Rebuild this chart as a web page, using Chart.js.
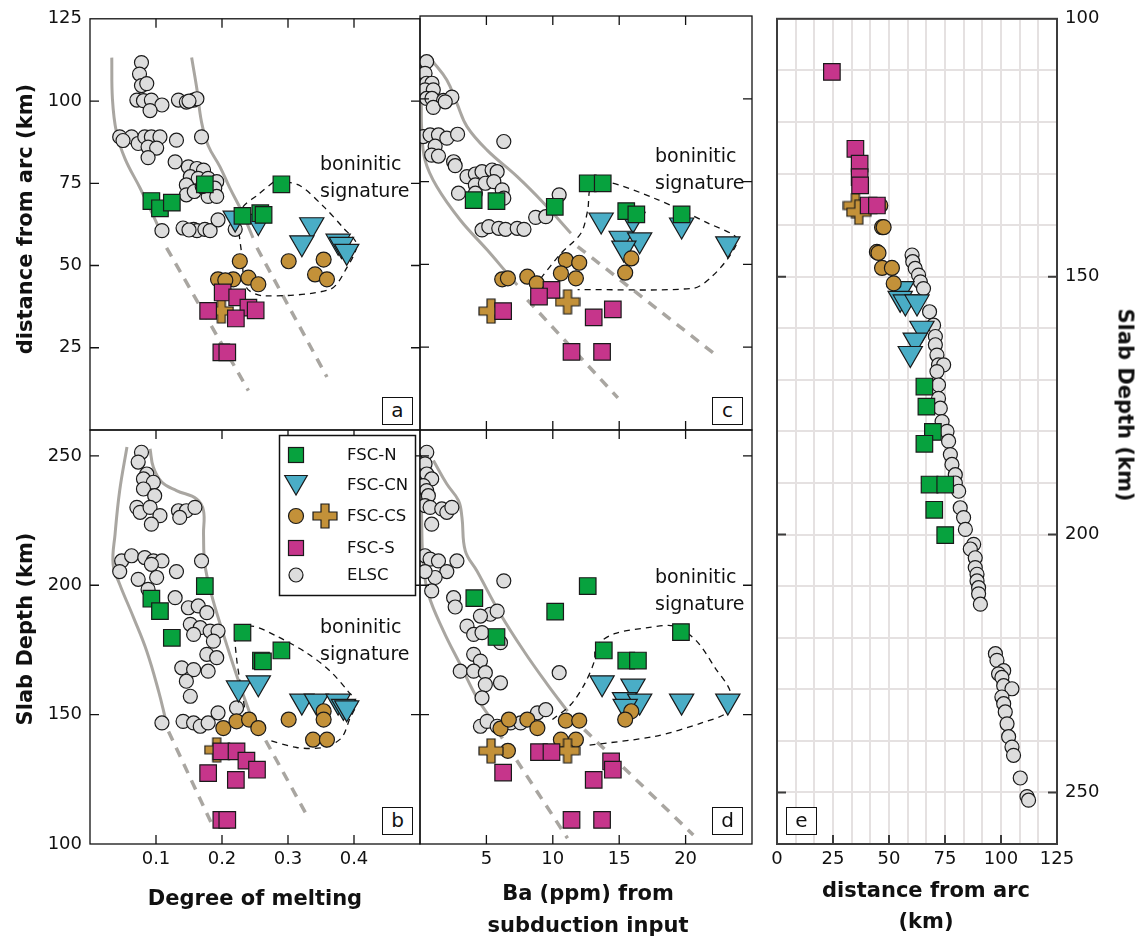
<!DOCTYPE html>
<html lang="en">
<head>
<meta charset="UTF-8">
<title>Slab depth, melting and Ba input</title>
<style>
  * { margin: 0; padding: 0; box-sizing: border-box; }
  body { background: #fff; width: 1139px; height: 939px; overflow: hidden;
         font-family: 'DejaVu Sans', sans-serif; color: #111; }
  #fig { position: relative; width: 1139px; height: 939px; }
  #fig canvas { position: absolute; left: 0; top: 0; }
  .t { position: absolute; white-space: nowrap; z-index: 5; line-height: 1; }
  .ttl { font-weight: bold; font-size: 21px; transform: translate(-50%, -50%); }
  .vl { transform: translate(-50%, -50%) rotate(-90deg); }
  .vr { transform: translate(-50%, -50%) rotate(90deg); }
  .note { font-size: 19px; line-height: 27px; }
  .tag { position: absolute; z-index: 5; border: 1.5px solid #111; background: #fff;
         font-size: 20px; display: flex; align-items: center; justify-content: center;
         width: 31px; height: 28px; padding-bottom: 3px; }
  .leg { font-size: 16.5px; transform: translateY(-50%); left: 347px; }
</style>
</head>
<body>
<div id="fig">
  <div class="t ttl vl" style="left:25px;top:219px">distance from arc (km)</div>
  <div class="t ttl vl" style="left:25px;top:629px">Slab Depth (km)</div>
  <div class="t ttl" style="left:255px;top:898px">Degree of melting</div>
  <div class="t ttl" style="left:588px;top:893px">Ba (ppm) from</div>
  <div class="t ttl" style="left:588px;top:925px">subduction input</div>
  <div class="t ttl" style="left:926px;top:890px">distance from arc</div>
  <div class="t ttl" style="left:926px;top:921px">(km)</div>
  <div class="t ttl vr" style="left:1125px;top:405px">Slab Depth (km)</div>

  <div class="t note" style="left:320px;top:150px">boninitic<br>signature</div>
  <div class="t note" style="left:655px;top:142px">boninitic<br>signature</div>
  <div class="t note" style="left:320px;top:613px">boninitic<br>signature</div>
  <div class="t note" style="left:655px;top:563px">boninitic<br>signature</div>

  <div class="tag" style="left:382px;top:397px">a</div>
  <div class="tag" style="left:712px;top:397px">c</div>
  <div class="tag" style="left:382px;top:807px">b</div>
  <div class="tag" style="left:712px;top:807px">d</div>
  <div class="tag" style="left:786px;top:807px">e</div>

  <div class="t leg" style="top:455px">FSC-N</div>
  <div class="t leg" style="top:485px">FSC-CN</div>
  <div class="t leg" style="top:516px">FSC-CS</div>
  <div class="t leg" style="top:548px">FSC-S</div>
  <div class="t leg" style="top:575px">ELSC</div>
</div>

<script src="https://cdn.jsdelivr.net/npm/chart.js"></script>
<script>
// ---- panel a : degree of melting vs distance from arc ----
const elscA = [[0.078,111.7],[0.075,108.2],[0.078,104.7],[0.086,105.3],
  [0.071,100.3],[0.081,100.1],[0.093,100.3],[0.109,98.8],[0.091,97.1],
  [0.134,100.3],[0.146,99.7],[0.157,100.3],[0.162,100.7],[0.150,100.0],
  [0.045,89.1],[0.063,89.1],[0.073,87.1],[0.083,89.1],[0.093,89.1],[0.106,89.1],[0.088,86.0],
  [0.101,85.7],[0.088,82.8],[0.131,88.1],[0.169,89.1],[0.050,88.0],
  [0.129,81.5],[0.149,80.0],[0.162,79.5],[0.172,79.0],[0.152,77.0],[0.164,76.5],[0.179,76.5],
  [0.192,75.5],[0.146,74.5],[0.189,73.5],[0.146,71.5],[0.179,71.0],[0.192,71.0],[0.158,72.5],[0.170,74.0],
  [0.109,60.6],[0.141,61.4],[0.157,61.0],[0.162,60.6],[0.174,61.0],[0.182,60.6],[0.194,63.9],[0.220,61.0],[0.150,60.8]];
const fscNA = [[0.174,74.7],[0.093,69.6],[0.106,67.4],[0.124,69.1],[0.290,74.7],[0.231,65.1],[0.258,65.9],[0.263,65.4]];
const fscCNA = [[0.220,64.4],[0.255,63.4],[0.336,62.4],[0.321,56.9],[0.376,57.4],[0.381,56.4],[0.389,54.3]];
const fscCSA = [[0.227,51.3],[0.194,45.8],[0.217,45.8],[0.240,46.3],[0.255,44.3],[0.301,51.3],[0.354,51.8],
  [0.341,47.3],[0.359,45.8],[0.205,45.5]];
const fscCSPlusA = [[0.199,36.2]];
const fscSA = [[0.201,41.8],[0.223,40.3],[0.179,36.2],[0.240,37.2],[0.251,36.4],[0.221,33.9],[0.199,23.6],[0.208,23.6]];
const leftA = [[0.033,113.2],[0.034,100.6],[0.040,90.6],[0.053,82.5],[0.076,73.5],[0.093,66.4],[0.109,59.4]];
const leftDashA = [[0.116,55.4],[0.240,12.0]];
const rightA = [[0.154,113.2],[0.162,103.6],[0.169,93.6],[0.179,86.5],[0.197,80.0],[0.212,73.5],[0.230,66.4],[0.247,58.4]];
const rightDashA = [[0.253,55.4],[0.359,16.1]];
const boninA = [[0.280,75.7],[0.316,74.5],[0.354,67.9],[0.384,61.4],[0.404,56.4],[0.389,49.3],[0.364,42.8],
  [0.263,40.8],[0.237,43.3],[0.230,53.3],[0.225,63.4],[0.232,67.9],[0.253,71.3],[0.280,75.7]];

// ---- panel b : degree of melting vs slab depth ----
const elscB = [[0.078,251.4],[0.073,247.6],[0.086,243.0],[0.081,241.1],[0.096,239.8],[0.081,237.2],[0.098,234.6],
  [0.071,230.1],[0.076,228.2],[0.091,230.1],[0.106,226.9],[0.093,223.6],[0.134,228.8],[0.146,228.8],[0.159,230.1],[0.136,226.2],
  [0.048,209.4],[0.063,211.4],[0.083,210.7],[0.096,209.4],[0.109,209.4],[0.045,205.3],[0.093,208.1],[0.131,205.3],
  [0.169,209.4],[0.073,202.3],[0.101,203.0],[0.088,198.4],
  [0.129,195.2],[0.149,191.3],[0.164,192.0],[0.177,189.4],[0.152,184.9],[0.167,183.6],[0.182,182.3],[0.194,182.3],
  [0.157,181.0],[0.187,178.4],[0.177,173.3],[0.192,172.0],[0.139,168.1],[0.157,167.4],[0.179,166.8],[0.146,162.9],[0.152,157.1],
  [0.109,146.8],[0.141,147.4],[0.157,146.8],[0.167,145.5],[0.179,146.8],[0.194,150.7],[0.222,152.6]];
const fscNB = [[0.174,199.7],[0.093,194.8],[0.106,190.0],[0.124,179.7],[0.231,181.7],[0.290,174.8],[0.259,170.9],[0.262,170.6]];
const fscCNB = [[0.225,160.3],[0.255,162.3],[0.321,155.2],[0.343,155.2],[0.376,155.2],[0.384,153.2],[0.389,152.6]];
const fscCSB = [[0.202,144.8],[0.222,147.4],[0.241,148.1],[0.255,144.8],[0.301,148.1],[0.354,151.3],[0.354,148.1],
  [0.338,140.3],[0.359,140.3]];
const fscCSPlusB = [[0.192,136.4]];
const fscSB = [[0.199,135.8],[0.222,135.8],[0.237,132.2],[0.253,128.7],[0.179,127.4],[0.221,124.8],[0.199,109.3],[0.208,109.3]];
const leftB = [[0.056,253.4],[0.045,236.6],[0.038,219.8],[0.035,208.1],[0.045,200.4],[0.066,187.5],[0.086,174.5],
  [0.104,159.0],[0.114,148.7]];
const leftDashB = [[0.119,143.5],[0.184,108.0]];
const rightB = [[0.091,252.7],[0.096,245.6],[0.109,239.8],[0.131,236.6],[0.162,233.3],[0.172,228.8],[0.172,219.8],
  [0.174,208.1],[0.184,196.5],[0.199,183.6],[0.215,170.7],[0.232,157.8],[0.242,150.7]];
const rightDashB = [[0.253,146.1],[0.331,110.0]];
const boninB = [[0.237,148.7],[0.230,159.0],[0.222,172.0],[0.222,181.0],[0.245,184.2],[0.283,180.3],[0.328,173.9],
  [0.364,166.8],[0.391,159.0],[0.404,154.5],[0.394,148.7],[0.381,141.0],[0.354,137.3],[0.313,137.3],[0.268,140.3]];

// ---- panel c : Ba from subduction vs distance from arc ----
const elscC = [[0.5,111.2],[0.38,107.7],[0.5,104.7],[0.9,104.7],[0.38,102.7],[1.0,102.7],
  [0.5,100.1],[0.9,100.1],[1.77,99.5],[2.4,100.5],[1.0,97.4],[1.9,99.1],
  [0.25,88.6],[0.76,89.1],[1.39,89.1],[2.02,88.1],[2.83,89.3],[1.14,85.7],[0.88,83.0],[1.39,82.7],[2.53,81.0],[2.65,79.8],[6.31,87.1],
  [3.54,76.5],[4.17,77.3],[4.67,78.0],[5.43,78.5],[5.81,78.0],[4.17,74.0],[4.92,74.5],[5.56,75.0],[6.19,72.5],[2.90,71.5],
  [4.17,71.5],[6.31,70.0],[10.48,71.0],
  [8.71,64.2],[9.47,64.4],[4.67,60.4],[5.18,61.4],[5.93,60.9],[6.44,60.6],[7.32,60.9],[7.83,60.6]];
const fscNC = [[4.04,69.4],[5.76,69.1],[10.15,67.4],[12.63,74.5],[13.76,74.5],[15.53,66.1],[16.29,65.1],[19.70,65.1]];
const fscCNC = [[13.64,63.4],[16.04,63.6],[19.70,61.9],[15.15,57.9],[16.54,57.4],[15.35,54.9],[23.18,56.2]];
const fscCSC = [[6.19,45.5],[6.62,45.8],[8.08,46.3],[8.79,44.3],[10.98,51.3],[11.99,50.5],[10.61,47.3],[11.74,45.8],
  [15.91,51.8],[15.45,47.5]];
const fscCSPlusC = [[5.35,35.9],[11.11,38.7]];
const fscSC = [[9.90,42.3],[8.96,40.3],[6.26,35.9],[13.08,34.0],[14.52,36.4],[11.41,23.6],[13.71,23.6]];
const leftC = [[0.10,100.0],[0.13,90.6],[0.38,81.5],[1.26,73.5],[3.03,63.4],[5.05,54.4],[6.57,47.3],[7.32,43.8]];
const leftDashC = [[8.08,39.3],[14.9,9.7]];
const rightC = [[0.88,111.7],[2.02,105.7],[2.78,98.6],[3.54,91.6],[5.05,84.5],[7.32,76.5],[9.34,68.4],[11.36,59.4]];
const rightDashC = [[11.87,55.4],[22.10,23.2]];
const boninC = [[9.09,45.8],[10.61,53.3],[12.12,59.4],[12.63,66.4],[12.88,73.5],[14.02,75.0],[17.68,69.9],[21.72,62.4],
  [23.86,57.9],[23.36,52.8],[21.97,46.3],[20.58,42.8],[11.87,42.4]];

// ---- panel d : Ba from subduction vs slab depth ----
const elscD = [[0.51,251.4],[0.38,246.9],[0.51,243.0],[0.88,241.1],[0.25,238.5],[0.5,236.6],[0.63,234.6],
  [0.38,230.8],[0.76,230.1],[1.64,229.5],[2.02,228.2],[2.40,230.1],[0.88,223.6],
  [0.38,211.4],[0.76,210.1],[1.39,209.4],[2.02,205.3],[1.14,203.0],[0.38,205.3],[2.78,209.4],[0.88,197.8],
  [2.53,195.2],[2.65,191.6],[6.31,201.7],
  [5.30,188.8],[5.81,190.0],[4.55,188.1],[3.54,184.2],[4.04,181.0],[4.67,181.7],[6.06,177.8],[4.04,173.3],[4.55,170.7],
  [3.03,166.8],[4.04,166.8],[4.92,166.2],[4.92,161.6],[6.06,162.3],[4.67,156.5],
  [4.55,145.5],[5.05,147.4],[5.81,145.5],[6.82,146.8],[7.58,146.8],[8.84,150.7],[9.47,151.9],[10.48,166.2]];
const fscND = [[4.09,195.0],[5.76,180.0],[10.18,189.8],[12.63,199.7],[13.84,174.8],[15.53,170.9],[16.41,170.9],[19.65,181.9]];
const fscCND = [[13.71,162.3],[16.04,161.0],[15.40,155.8],[16.54,155.2],[19.70,155.2],[23.18,155.2],[15.45,153.2]];
const fscCSD = [[6.06,144.6],[6.69,148.1],[8.08,148.1],[8.84,144.8],[10.98,147.7],[11.99,147.7],[10.61,140.3],
  [11.74,140.3],[6.62,136.0],[15.91,151.3],[15.45,148.1]];
const fscCSPlusD = [[5.35,136.0],[11.11,136.0]];
const fscSD = [[8.96,135.5],[9.90,135.5],[6.26,127.6],[13.08,124.8],[14.39,131.9],[14.52,128.7],[11.41,109.3],[13.71,109.3]];
const leftD = [[0.12,240.0],[0.13,223.6],[0.25,208.1],[0.63,196.5],[1.77,182.3],[3.03,169.4],[4.29,156.5],[5.30,148.7]];
const leftDashD = [[5.8,144.0],[11.11,102.2]];
const rightD = [[1.01,248.2],[2.02,239.1],[2.90,232.7],[3.16,226.2],[3.41,213.3],[4.29,205.5],[6.06,188.8],[7.83,174.5],
  [9.60,161.6],[11.11,151.3]];
const rightDashD = [[12.37,144.2],[20.58,103.5]];
const boninD = [[9.97,148.1],[11.36,153.9],[12.37,161.6],[13.13,170.7],[13.26,176.5],[14.65,181.3],[17.17,183.6],
  [19.19,184.2],[20.83,178.4],[22.22,168.1],[23.36,159.0],[23.23,151.3],[21.21,146.8],[17.68,141.6],[12.63,138.1]];

// ---- panel e : distance from arc vs slab depth ----
const fscSE = [[24.5,110.3],[35.0,125.2],[36.9,128.1],[36.9,130.7],[37.1,132.3],[40.9,136.2],[44.6,136.2]];
const fscCSPlusE = [[35.0,136.2],[36.5,137.5]];
const fscCSE = [[46.1,136.2],[46.9,140.4],[47.6,140.4],[44.6,145.2],[45.3,145.4],[46.9,148.3],[51.3,148.3],[52.1,151.3]];
const fscCNE = [[55.8,152.3],[55.0,154.2],[57.3,154.9],[62.5,154.9],[64.7,160.0],[61.7,162.3],[59.5,164.9]];
const fscNE = [[65.8,171.3],[66.7,175.2],[69.6,180.1],[65.8,182.4],[68.1,190.3],[75.1,190.3],[70.2,195.2],[75.1,200.1]];
const elscE = [[60.3,145.8],[60.6,147.1],[61.7,148.4],[63.2,149.7],[64.0,151.0],[65.4,152.3],[68.1,156.8],[69.9,159.4],
  [70.7,161.6],[70.7,163.2],[71.4,165.2],[72.1,167.1],[74.4,167.1],[71.4,168.4],[72.1,171.0],[72.1,173.6],[72.9,175.5],
  [73.7,178.1],[75.9,180.0],[76.6,181.9],[77.4,184.5],
  [78.1,186.4],[79.6,188.4],[79.6,190.0],[81.1,191.6],[81.8,194.8],[83.3,196.7],[84.1,199.0],[87.8,201.9],[86.3,202.8],
  [88.5,204.5],[88.5,206.4],[89.3,207.7],[89.3,209.0],[90.0,210.3],[90.0,211.5],[90.8,213.5],
  [97.5,223.1],[98.2,224.4],[101.2,226.4],[98.9,227.0],[100.4,227.7],[101.2,229.3],[104.9,229.9],[100.4,231.5],
  [101.2,232.8],[101.9,234.4],[102.7,236.7],[103.4,239.2],[104.9,241.2],[105.6,242.8],[108.6,247.2],[111.6,250.8],[112.3,251.5]];

// tick values
const meltTicks = [0.1, 0.2, 0.3, 0.4];
const baTicks = [5, 10, 15, 20];
const distTicks = [25, 50, 75, 100];
const distLabels = [25, 50, 75, 100, 125];
const depthTicks = [150, 200, 250];
const depthLabels = [100, 150, 200, 250];
const eDistLabels = [0, 25, 50, 75, 100, 125];
const eDistGrid = Array.from({length: 16}, (_, i) => i * 25 / 3);
const eDepthGrid = Array.from({length: 17}, (_, i) => 100 + i * 10);

const COL = { n: '#07a23e', cn: '#4aadc6', cs: '#c39139', s: '#c6358b', elsc: '#dddddd',
              edge: '#1a1a1a', env: '#a9a6a1' };

Chart.defaults.font.family = "'DejaVu Sans', sans-serif";
Chart.defaults.color = '#111';

function makePlus(size, arm, fill) {
  const c = document.createElement('canvas');
  c.width = c.height = size + 2;
  const g = c.getContext('2d');
  const a0 = 1 + (size - arm) / 2, a1 = a0 + arm, e0 = 1, e1 = 1 + size;
  g.beginPath();
  g.moveTo(a0, e0); g.lineTo(a1, e0); g.lineTo(a1, a0); g.lineTo(e1, a0); g.lineTo(e1, a1);
  g.lineTo(a1, a1); g.lineTo(a1, e1); g.lineTo(a0, e1); g.lineTo(a0, a1); g.lineTo(e0, a1);
  g.lineTo(e0, a0); g.lineTo(a0, a0); g.closePath();
  g.fillStyle = fill; g.fill();
  g.strokeStyle = COL.edge; g.lineWidth = 1.2; g.stroke();
  return c;
}
const plusImg = makePlus(24, 8, COL.cs);

const pts = arr => arr.map(p => ({x: p[0], y: p[1]}));

function marks(data, kind) {
  const base = { data: pts(data), showLine: false, borderColor: COL.edge, borderWidth: 1.2, clip: 0 };
  if (kind === 'elsc') return { ...base, pointStyle: 'circle', pointRadius: 7, backgroundColor: COL.elsc, order: 6 };
  if (kind === 'cn') return { ...base, pointStyle: 'triangle', rotation: 180, pointRadius: 14, backgroundColor: COL.cn, order: 5 };
  if (kind === 'cs') return { ...base, pointStyle: 'circle', pointRadius: 7.5, backgroundColor: COL.cs, order: 4 };
  if (kind === 'plus') return { ...base, pointStyle: plusImg, pointRadius: 12, order: 3 };
  if (kind === 'n') return { ...base, pointStyle: 'rect', pointRadius: 11.7, backgroundColor: COL.n, order: 2 };
  return { ...base, pointStyle: 'rect', pointRadius: 11.7, backgroundColor: COL.s, order: 1 };
}

function line(data, kind) {
  const d = { data: pts(data), showLine: true, pointRadius: 0, fill: false, clip: 0, order: 10 };
  if (kind === 'solid') return { ...d, borderColor: COL.env, borderWidth: 3, tension: 0.4 };
  if (kind === 'dash') return { ...d, borderColor: COL.env, borderWidth: 3.5, borderDash: [10, 8] };
  return { ...d, borderColor: '#111', borderWidth: 1.3, borderDash: [6, 5], tension: 0.3, order: 9 };
}

// size: room reserved for the labels of a shown axis (so they are not clipped)
function axis(min, max, o) {
  return {
    type: 'linear', min, max, position: o.position, reverse: !!o.reverse,
    display: !!o.labels,
    afterBuildTicks: s => { s.ticks = (o.ticks || o.labels || []).map(v => ({value: v})); },
    afterFit: s => { if (s.isHorizontal()) s.height = o.size || 0; else s.width = o.size || 0; },
    grid: { display: !!o.grid, color: '#e5e1e1', lineWidth: 2, drawTicks: false },
    border: { display: false },
    ticks: { autoSkip: false, maxRotation: 0, padding: o.pad, color: '#111', font: { size: 18 },
             callback: v => (o.labels && o.labels.includes(v)) ? String(v) : '' }
  };
}

const framePlugin = {
  id: 'frame',
  afterDraw(chart, args, o) {
    const { ctx, chartArea: a, scales } = chart;
    const len = 9;
    ctx.save();
    ctx.strokeStyle = o.color || '#111';
    ctx.lineWidth = o.width || 1.3;
    ctx.strokeRect(a.left, a.top, a.right - a.left, a.bottom - a.top);
    ctx.beginPath();
    (o.xt || []).forEach(v => {
      const px = scales.x.getPixelForValue(v);
      if (o.sides.includes('t')) { ctx.moveTo(px, a.top); ctx.lineTo(px, a.top + len); }
      if (o.sides.includes('b')) { ctx.moveTo(px, a.bottom); ctx.lineTo(px, a.bottom - len); }
    });
    (o.yt || []).forEach(v => {
      const py = scales.y.getPixelForValue(v);
      if (o.sides.includes('l')) { ctx.moveTo(a.left, py); ctx.lineTo(a.left + len, py); }
      if (o.sides.includes('r')) { ctx.moveTo(a.right, py); ctx.lineTo(a.right - len, py); }
    });
    ctx.stroke();
    ctx.restore();
  }
};

const legendPlugin = {
  id: 'legendBox',
  afterDraw(chart) {
    const ctx = chart.ctx;
    ctx.save();
    ctx.fillStyle = '#fff';
    ctx.fillRect(279.5, 435.5, 136, 160);
    ctx.strokeStyle = '#111'; ctx.lineWidth = 1.5;
    ctx.strokeRect(279.5, 435.5, 136, 160);
    ctx.lineWidth = 1.2; ctx.strokeStyle = COL.edge;
    const sq = (x, y, c) => { ctx.fillStyle = c; ctx.fillRect(x - 7.5, y - 7.5, 15, 15); ctx.strokeRect(x - 7.5, y - 7.5, 15, 15); };
    const circ = (x, y, r, c) => { ctx.beginPath(); ctx.arc(x, y, r, 0, Math.PI * 2); ctx.fillStyle = c; ctx.fill(); ctx.stroke(); };
    sq(296, 455, COL.n);
    const r = 13;
    ctx.beginPath();
    ctx.moveTo(296, 482 + r); ctx.lineTo(296 - r * 0.866, 482 - r / 2); ctx.lineTo(296 + r * 0.866, 482 - r / 2);
    ctx.closePath(); ctx.fillStyle = COL.cn; ctx.fill(); ctx.stroke();
    circ(296, 516, 7.5, COL.cs);
    ctx.drawImage(plusImg, 325 - plusImg.width / 2, 516 - plusImg.height / 2);
    sq(296, 548, COL.s);
    circ(296, 575, 7, COL.elsc);
    ctx.restore();
  }
};

const fig = document.getElementById('fig');
const W = 1139, H = 939;

// box = [left, top, right, bottom] of the plot frame in page pixels
function panel(box, scales, datasets, frame, extra) {
  const canvas = document.createElement('canvas');
  canvas.width = W; canvas.height = H;
  fig.insertBefore(canvas, fig.firstChild);
  const pad = { left: box[0], top: box[1], right: W - box[2], bottom: H - box[3] };
  Object.values(scales).forEach(s => {
    if (!s.display || !s.size) return;
    if (s.position === 'left') pad.left -= s.size;
    if (s.position === 'right') pad.right -= s.size;
    if (s.position === 'bottom') pad.bottom -= s.size;
  });
  return new Chart(canvas, {
    type: 'scatter',
    data: { datasets },
    options: {
      responsive: false, animation: false, devicePixelRatio: 1, events: [],
      layout: { padding: pad },
      scales,
      plugins: { legend: { display: false }, tooltip: { enabled: false }, frame }
    },
    plugins: [framePlugin].concat(extra || [])
  });
}
function sized(ax, size) { ax.size = size; const f = ax.afterFit; ax.afterFit = s => { if (s.isHorizontal()) s.height = size; else s.width = size; }; return ax; }

function groupSets(elsc, cn, cs, plus, n, s, left, leftDash, right, rightDash, bonin) {
  return [
    line(left, 'solid'), line(leftDash, 'dash'), line(right, 'solid'), line(rightDash, 'dash'), line(bonin, 'bonin'),
    marks(elsc, 'elsc'), marks(cn, 'cn'), marks(cs, 'cs'), marks(plus, 'plus'), marks(n, 'n'), marks(s, 's')
  ];
}

// panel e
panel([777, 16, 1057, 844], {
  x: sized(axis(0, 125, { position: 'bottom', ticks: eDistGrid, labels: eDistLabels, grid: true, pad: 5 }), 30),
  y: sized(axis(100, 260, { position: 'right', reverse: true, ticks: eDepthGrid, labels: depthLabels, grid: true, pad: 8 }), 60)
}, [marks(elscE, 'elsc'), marks(fscCNE, 'cn'), marks(fscCSE, 'cs'), marks(fscCSPlusE, 'plus'),
    marks(fscNE, 'n'), marks(fscSE, 's')],
  { xt: distTicks, yt: depthTicks, sides: 'blr', color: '#3c3c3c', width: 2 });

// panel d
panel([420, 430, 752, 844], {
  x: sized(axis(0, 25, { position: 'bottom', labels: baTicks, pad: 5 }), 30),
  y: axis(100, 260, { position: 'left' })
}, groupSets(elscD, fscCND, fscCSD, fscCSPlusD, fscND, fscSD, leftD, leftDashD, rightD, rightDashD, boninD),
  { xt: baTicks, yt: depthTicks, sides: 'tblr' });

// panel c
panel([420, 16, 752, 430], {
  x: axis(0, 25, { position: 'bottom' }),
  y: axis(0, 125, { position: 'left' })
}, groupSets(elscC, fscCNC, fscCSC, fscCSPlusC, fscNC, fscSC, leftC, leftDashC, rightC, rightDashC, boninC),
  { xt: baTicks, yt: distTicks, sides: 'tblr' });

// panel b
panel([90, 430, 420, 844], {
  x: sized(axis(0, 0.5, { position: 'bottom', labels: meltTicks, pad: 5 }), 30),
  y: sized(axis(100, 260, { position: 'left', labels: depthLabels, pad: 8 }), 60)
}, groupSets(elscB, fscCNB, fscCSB, fscCSPlusB, fscNB, fscSB, leftB, leftDashB, rightB, rightDashB, boninB),
  { xt: meltTicks, yt: depthTicks, sides: 'tblr' }, [legendPlugin]);

// panel a
panel([90, 16, 420, 430], {
  x: axis(0, 0.5, { position: 'bottom' }),
  y: sized(axis(0, 125, { position: 'left', labels: distLabels, pad: 8 }), 60)
}, groupSets(elscA, fscCNA, fscCSA, fscCSPlusA, fscNA, fscSA, leftA, leftDashA, rightA, rightDashA, boninA),
  { xt: meltTicks, yt: distTicks, sides: 'tlr' });
</script>
</body>
</html>
